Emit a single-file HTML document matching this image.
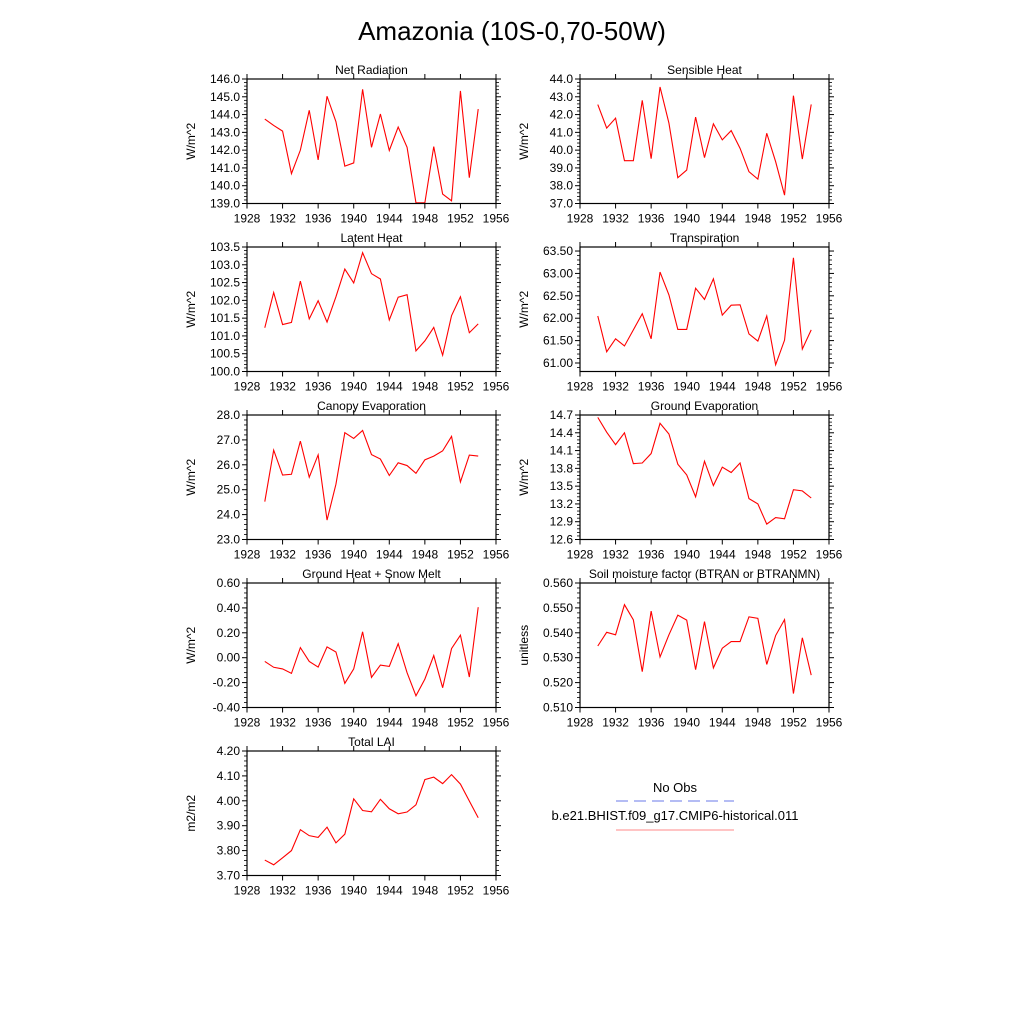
<!DOCTYPE html>
<html><head><meta charset="utf-8"><style>
body{margin:0;background:#fff}
svg{display:block;font-family:"Liberation Sans",sans-serif}
</style></head><body>
<svg id="c" width="1024" height="1024" viewBox="0 0 1024 1024">
<rect width="1024" height="1024" fill="#fff"/>
<text x="512" y="40" font-size="26" text-anchor="middle">Amazonia (10S-0,70-50W)</text>
<g>
<text x="675" y="792" font-size="13" text-anchor="middle">No Obs</text>
<line x1="616" y1="801" x2="734" y2="801" stroke="#6a78e8" stroke-width="1" stroke-dasharray="12,6"/>
<text x="675" y="820" font-size="13" text-anchor="middle">b.e21.BHIST.f09_g17.CMIP6-historical.011</text>
<line x1="616" y1="830" x2="734" y2="830" stroke="#f88" stroke-width="1"/>
</g>
</svg>
<script>
const years = [1930,1931,1932,1933,1934,1935,1936,1937,1938,1939,1940,1941,1942,1943,1944,1945,1946,1947,1948,1949,1950,1951,1952,1953,1954];
const xTicks = [1928,1932,1936,1940,1944,1948,1952,1956];
const netRad = [143.75,143.39,143.07,140.68,142.0,144.24,141.45,145.03,143.6,141.1,141.28,145.42,142.16,144.03,141.98,143.3,142.16,139.04,139.04,142.2,139.53,139.15,145.33,140.45,144.31];
const sensHeat = [42.56,41.24,41.8,39.41,39.41,42.8,39.52,43.55,41.52,38.45,38.88,41.86,39.58,41.48,40.58,41.1,40.1,38.79,38.37,40.95,39.35,37.47,43.06,39.5,42.57];
const latentHeat = [101.23,102.22,101.32,101.38,102.54,101.48,101.99,101.39,102.1,102.88,102.49,103.34,102.75,102.6,101.45,102.09,102.16,100.58,100.86,101.24,100.46,101.57,102.1,101.09,101.34];
const transp = [62.05,61.25,61.54,61.38,61.74,62.1,61.54,63.03,62.52,61.75,61.75,62.67,62.42,62.88,62.07,62.29,62.3,61.65,61.49,62.05,60.96,61.51,63.35,61.31,61.74];
const canopyEvap = [24.52,26.59,25.59,25.62,26.95,25.5,26.4,23.78,25.22,27.29,27.06,27.38,26.41,26.23,25.57,26.08,25.97,25.66,26.2,26.35,26.56,27.14,25.31,26.39,26.35];
const groundEvap = [14.66,14.41,14.2,14.4,13.88,13.89,14.05,14.56,14.38,13.87,13.69,13.32,13.92,13.51,13.82,13.73,13.89,13.29,13.2,12.86,12.97,12.95,13.44,13.42,13.3];
const groundHeat = [-0.03,-0.077,-0.09,-0.126,0.081,-0.03,-0.075,0.087,0.046,-0.206,-0.09,0.208,-0.158,-0.059,-0.07,0.113,-0.12,-0.306,-0.172,0.017,-0.241,0.073,0.181,-0.155,0.406];
const soilMoist = [0.5347,0.5402,0.5392,0.5513,0.5452,0.5244,0.5487,0.5303,0.5392,0.5471,0.5451,0.5252,0.5445,0.5259,0.5338,0.5365,0.5365,0.5464,0.5458,0.5273,0.5389,0.5453,0.5156,0.538,0.523];
const totalLai = [3.762,3.743,3.771,3.80,3.884,3.86,3.853,3.894,3.831,3.866,4.008,3.961,3.956,4.006,3.968,3.948,3.955,3.984,4.085,4.095,4.069,4.105,4.067,3.999,3.932];
const ticksNet = [139,140,141,142,143,144,145,146];
const ticksSens = [37,38,39,40,41,42,43,44];
const ticksLat = [100,100.5,101,101.5,102,102.5,103,103.5];
const ticksTr = [61,61.5,62,62.5,63,63.5];
const ticksCan = [23,24,25,26,27,28];
const ticksGe = [12.6,12.9,13.2,13.5,13.8,14.1,14.4,14.7];
const ticksGh = [-0.4,-0.2,0,0.2,0.4,0.6];
const ticksSm = [0.51,0.52,0.53,0.54,0.55,0.56];
const ticksLai = [3.7,3.8,3.9,4.0,4.1,4.2];

const NS='http://www.w3.org/2000/svg';
const svg=document.getElementById('c');
function mk(tag,attrs,parent){const e=document.createElementNS(NS,tag);for(const k in attrs)e.setAttribute(k,attrs[k]);(parent||svg).appendChild(e);return e;}

const panels=[
 {id:'net-radiation',title:'Net Radiation',unit:'W/m^2',data:netRad,ticks:ticksNet,lo:139,hi:146,dec:1,x:247,y:79},
 {id:'sensible-heat',title:'Sensible Heat',unit:'W/m^2',data:sensHeat,ticks:ticksSens,lo:37,hi:44,dec:1,x:580,y:79},
 {id:'latent-heat',title:'Latent Heat',unit:'W/m^2',data:latentHeat,ticks:ticksLat,lo:100,hi:103.5,dec:1,x:247,y:247},
 {id:'transpiration',title:'Transpiration',unit:'W/m^2',data:transp,ticks:ticksTr,lo:60.81,hi:63.59,dec:2,x:580,y:247},
 {id:'canopy-evaporation',title:'Canopy Evaporation',unit:'W/m^2',data:canopyEvap,ticks:ticksCan,lo:23,hi:28,dec:1,x:247,y:415},
 {id:'ground-evaporation',title:'Ground Evaporation',unit:'W/m^2',data:groundEvap,ticks:ticksGe,lo:12.6,hi:14.7,dec:1,x:580,y:415},
 {id:'ground-heat',title:'Ground Heat + Snow Melt',unit:'W/m^2',data:groundHeat,ticks:ticksGh,lo:-0.4,hi:0.6,dec:2,x:247,y:583},
 {id:'soil-moisture',title:'Soil moisture factor (BTRAN or BTRANMN)',unit:'unitless',data:soilMoist,ticks:ticksSm,lo:0.51,hi:0.56,dec:3,x:580,y:583},
 {id:'total-lai',title:'Total LAI',unit:'m2/m2',data:totalLai,ticks:ticksLai,lo:3.7,hi:4.2,dec:2,x:247,y:751}
];
const W=249,H=124.5;
panels.forEach(p=>{
 const g=mk('g',{});
 
 
 const xs=v=>p.x+(v-1928)/28*W;
 const ys=v=>p.y+H-(v-p.lo)/(p.hi-p.lo)*H;
 const t=mk('text',{x:p.x+W/2,y:p.y-5,'font-size':12,'text-anchor':'middle'},g);
 t.textContent=p.title;
 
 
 // y ticks
 const step=p.ticks[1]-p.ticks[0];
 for(let i=0;i<p.ticks.length;i++){
  const v=p.ticks[i],yy=ys(v);
  if(yy<p.y-0.5||yy>p.y+H+0.5)continue;
  mk('line',{x1:p.x-5,y1:yy,x2:p.x,y2:yy,stroke:'#000'},g);
  mk('line',{x1:p.x+W,y1:yy,x2:p.x+W+5,y2:yy,stroke:'#000'},g);
  const l=mk('text',{x:p.x-7,y:yy+4,'font-size':12,'text-anchor':'end'},g);
  l.textContent=v.toFixed(p.dec);
  
  
 }
 for(let v=p.ticks[0]-step;v<=p.hi+step;v+=step){
  for(let k=1;k<5;k++){
   const yy=ys(v+k*step/5);
   if(yy<p.y||yy>p.y+H)continue;
   mk('line',{x1:p.x-3,y1:yy,x2:p.x,y2:yy,stroke:'#000','stroke-width':0.8},g);
   mk('line',{x1:p.x+W,y1:yy,x2:p.x+W+3,y2:yy,stroke:'#000','stroke-width':0.8},g);
  }
 }
 // x ticks
 xTicks.forEach(v=>{
  const xx=xs(v);
  mk('line',{x1:xx,y1:p.y+H,x2:xx,y2:p.y+H+5,stroke:'#000'},g);
  mk('line',{x1:xx,y1:p.y-5,x2:xx,y2:p.y,stroke:'#000'},g);
  const l=mk('text',{x:xx,y:p.y+H+19,'font-size':12,'text-anchor':'middle'},g);
  l.textContent=v;
  
  
 });
 const yt=mk('text',{x:0,y:0,'font-size':12,'text-anchor':'middle',transform:`translate(${p.x-52},${p.y+H/2}) rotate(-90)`},g);
 yt.textContent=p.unit;
 
 
 const pts=p.data.map((v,i)=>xs(years[i]).toFixed(2)+','+ys(v).toFixed(2)).join(' ');
 const ln=mk('polyline',{points:pts,fill:'none',stroke:'#f00','stroke-width':1.1},g);
 
 
 const b=mk('rect',{x:p.x,y:p.y,width:W,height:H,fill:'none',stroke:'#000','stroke-width':1.2},g);
 
 
});
</script>
</body></html>
